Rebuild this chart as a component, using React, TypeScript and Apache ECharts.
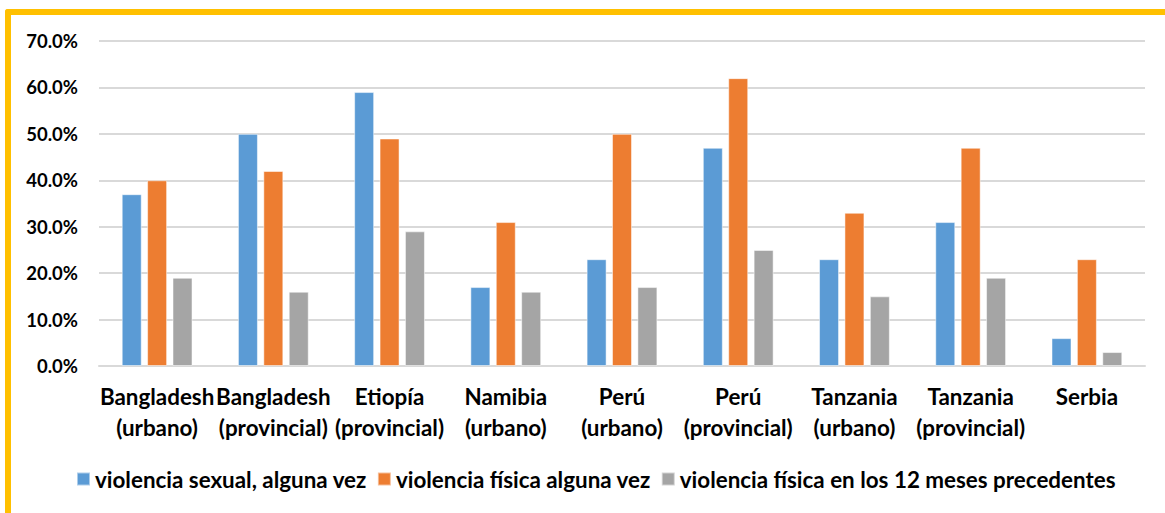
import React, { useEffect, useRef } from "react";
import * as echarts from "echarts";

const categories = [
  "Bangladesh\n(urbano)",
  "Bangladesh\n(provincial)",
  "Etiopía\n(provincial)",
  "Namibia\n(urbano)",
  "Perú\n(urbano)",
  "Perú\n(provincial)",
  "Tanzania\n(urbano)",
  "Tanzania\n(provincial)",
  "Serbia",
];
const seriesNames = [
  "violencia sexual, alguna vez",
  "violencia física alguna vez",
  "violencia física en los 12 meses precedentes",
];
const sexualEver = [37, 50, 59, 17, 23, 47, 23, 31, 6];
const physicalEver = [40, 42, 49, 31, 50, 62, 33, 47, 23];
const physical12m = [19, 16, 29, 16, 17, 25, 15, 19, 3];
const colors = ["#5B9BD5", "#ED7D31", "#A5A5A5"];

const FONT = "Lato";

export default function App() {
  const ref = useRef<HTMLDivElement>(null);
  useEffect(() => {
    if (!ref.current) return;
    const chart = echarts.init(ref.current, null, { renderer: "svg" });
    const values = [sexualEver, physicalEver, physical12m];
    chart.setOption({
      animation: false,
      backgroundColor: "#ffffff",
      textStyle: { fontFamily: FONT },
      grid: { left: 99, right: 20, top: 41, bottom: 147, containLabel: false },
      graphic: [
        { type: "rect", shape: { x: 5, y: 9, width: 1160, height: 6, r: [3, 0, 0, 0] }, style: { fill: "#FFC000" } },
        { type: "rect", shape: { x: 5, y: 9, width: 6, height: 504, r: [3, 0, 0, 0] }, style: { fill: "#FFC000" } },
      ],
      legend: {
        bottom: 23,
        left: 76,
        padding: 0,
        icon: "rect",
        itemWidth: 13,
        itemHeight: 13,
        itemGap: 10,
        textStyle: { fontFamily: FONT, fontWeight: "bold", fontSize: 22.4, color: "#000" },
        data: seriesNames,
      },
      xAxis: {
        type: "category",
        data: categories,
        axisLine: { lineStyle: { color: "#D9D9D9", width: 2 } },
        axisTick: { show: false },
        axisLabel: {
          interval: 0,
          margin: 15,
          fontFamily: FONT,
          fontWeight: "bold",
          fontSize: 22.4,
          lineHeight: 31,
          color: "#000",
        },
      },
      yAxis: {
        type: "value",
        min: 0,
        max: 70,
        interval: 10,
        axisLine: { show: false },
        axisTick: { show: false },
        splitLine: { lineStyle: { color: "#D9D9D9", width: 2 } },
        axisLabel: {
          margin: 21,
          fontFamily: FONT,
          fontWeight: "bold",
          fontSize: 18.5,
          color: "#000",
          formatter: (v: number) => v.toFixed(1) + "%",
        },
      },
      series: seriesNames.map((name, i) => ({
        name,
        type: "bar",
        data: values[i],
        barWidth: 20,
        barGap: "27%",
        itemStyle: { color: colors[i], borderColor: "rgba(255,255,255,0.5)", borderWidth: 1 },
      })),
    });
    return () => chart.dispose();
  }, []);
  return (
    <div
      ref={ref}
      style={{ position: "fixed", left: 0, top: 0, width: 1165, height: 513 }}
    />
  );
}
